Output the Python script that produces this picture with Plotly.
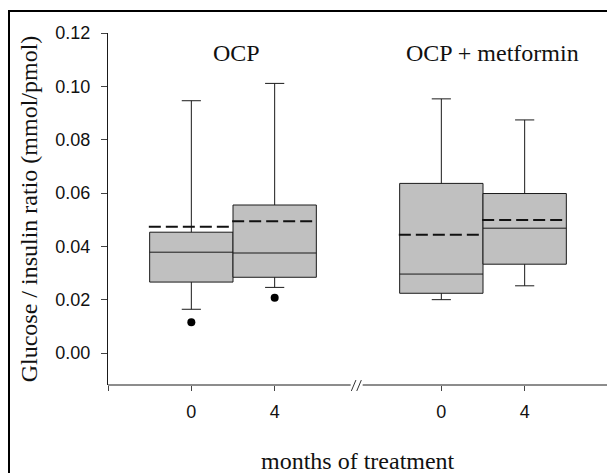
import plotly.graph_objects as go

# ---- data ----
group_labels = ["OCP", "OCP + metformin"]
month_labels = ["0", "4", "0", "4"]
box_positions = [0, 1, 3, 4]
upper_whisker = [0.0946, 0.1011, 0.0953, 0.0874]
q3_values = [0.0453, 0.0555, 0.0636, 0.0598]
median_values = [0.0378, 0.0375, 0.0296, 0.0468]
q1_values = [0.0266, 0.0284, 0.0224, 0.0333]
lower_whisker = [0.0164, 0.0246, 0.0200, 0.0252]
mean_values = [0.0473, 0.0494, 0.0443, 0.0499]
outlier_positions = [0, 1]
outlier_values = [0.0115, 0.0207]
y_tick_values = [0.00, 0.02, 0.04, 0.06, 0.08, 0.10, 0.12]

SERIF = "Liberation Serif, Times New Roman, serif"
SANS = "Liberation Sans, Arial, sans-serif"
BOX_W = 1.0

fig = go.Figure()

fig.add_trace(go.Box(
    x=box_positions,
    q1=q1_values, median=median_values, q3=q3_values,
    lowerfence=lower_whisker, upperfence=upper_whisker,
    width=BOX_W, whiskerwidth=0.23,
    fillcolor="#c0c0c0",
    line=dict(color="#1a1a1a", width=1),
    boxpoints=False, showlegend=False,
))

# mean (dashed) lines across each box
mx, my = [], []
for p, m in zip(box_positions, mean_values):
    mx += [p - BOX_W / 2 - 0.01, p + BOX_W / 2, None]
    my += [m, m, None]
fig.add_trace(go.Scatter(
    x=mx, y=my, mode="lines",
    line=dict(color="#111111", width=2, dash="12px,5px"),
    showlegend=False, hoverinfo="skip",
))

# outliers
fig.add_trace(go.Scatter(
    x=outlier_positions, y=outlier_values, mode="markers",
    marker=dict(color="black", size=8),
    showlegend=False,
))

shapes = [
    # x-axis line with a break
    dict(type="line", xref="x", yref="paper", x0=-1, x1=1.912, y0=0, y1=0,
         line=dict(color="#1a1a1a", width=1)),
    dict(type="line", xref="x", yref="paper", x0=2.056, x1=5, y0=0, y1=0,
         line=dict(color="#1a1a1a", width=1)),
    dict(type="line", xref="x", yref="paper", x0=1.92, x1=1.975, y0=-0.017, y1=0.014,
         line=dict(color="#333333", width=1)),
    dict(type="line", xref="x", yref="paper", x0=1.985, x1=2.04, y0=-0.017, y1=0.014,
         line=dict(color="#333333", width=1)),
    # outer frame (only top and left are visible)
    dict(type="rect", xref="paper", yref="paper", x0=-0.198, x1=1.5, y0=-1, y1=1.0625,
         line=dict(color="black", width=2), fillcolor="rgba(0,0,0,0)"),
]

annotations = [
    dict(text=group_labels[0], x=0.542, y=0.118, xref="x", yref="y",
         showarrow=False, font=dict(family=SERIF, size=24, color="#111"),
         xanchor="center", yanchor="top"),
    dict(text=group_labels[1], x=3.614, y=0.118, xref="x", yref="y",
         showarrow=False, font=dict(family=SERIF, size=24, color="#111"),
         xanchor="center", yanchor="top"),
    dict(text="months of treatment", x=0.5, y=-0.215, xref="paper", yref="paper",
         showarrow=False, font=dict(family=SERIF, size=24, color="#111"),
         xanchor="center", yanchor="middle"),
]

# page body adds an 8px margin, so the figure is 8px smaller than the window
fig.update_layout(
    width=607, height=465,
    margin=dict(l=100, r=7, t=25, b=88),
    paper_bgcolor="white", plot_bgcolor="white",
    shapes=shapes, annotations=annotations,
    xaxis=dict(
        range=[-1, 5], showgrid=False, zeroline=False, showline=False,
        tickvals=[-1] + box_positions + [5],
        ticktext=[""] + month_labels + [""],
        ticks="outside", ticklen=5, tickcolor="#444",
        ticklabelstandoff=5,
        tickfont=dict(family=SANS, size=18, color="#111"),
    ),
    yaxis=dict(
        range=[-0.012, 0.12], showgrid=False, zeroline=False,
        showline=True, linecolor="#1a1a1a", linewidth=1,
        tickvals=y_tick_values, tickformat=".2f",
        ticks="outside", ticklen=6, tickcolor="#444",
        ticklabelstandoff=7,
        tickfont=dict(family=SANS, size=18, color="#111"),
        title=dict(text="Glucose / insulin ratio (mmol/pmol)",
                   font=dict(family=SERIF, size=24, color="#111"), standoff=10),
    ),
)

fig.write_html("out.html")
